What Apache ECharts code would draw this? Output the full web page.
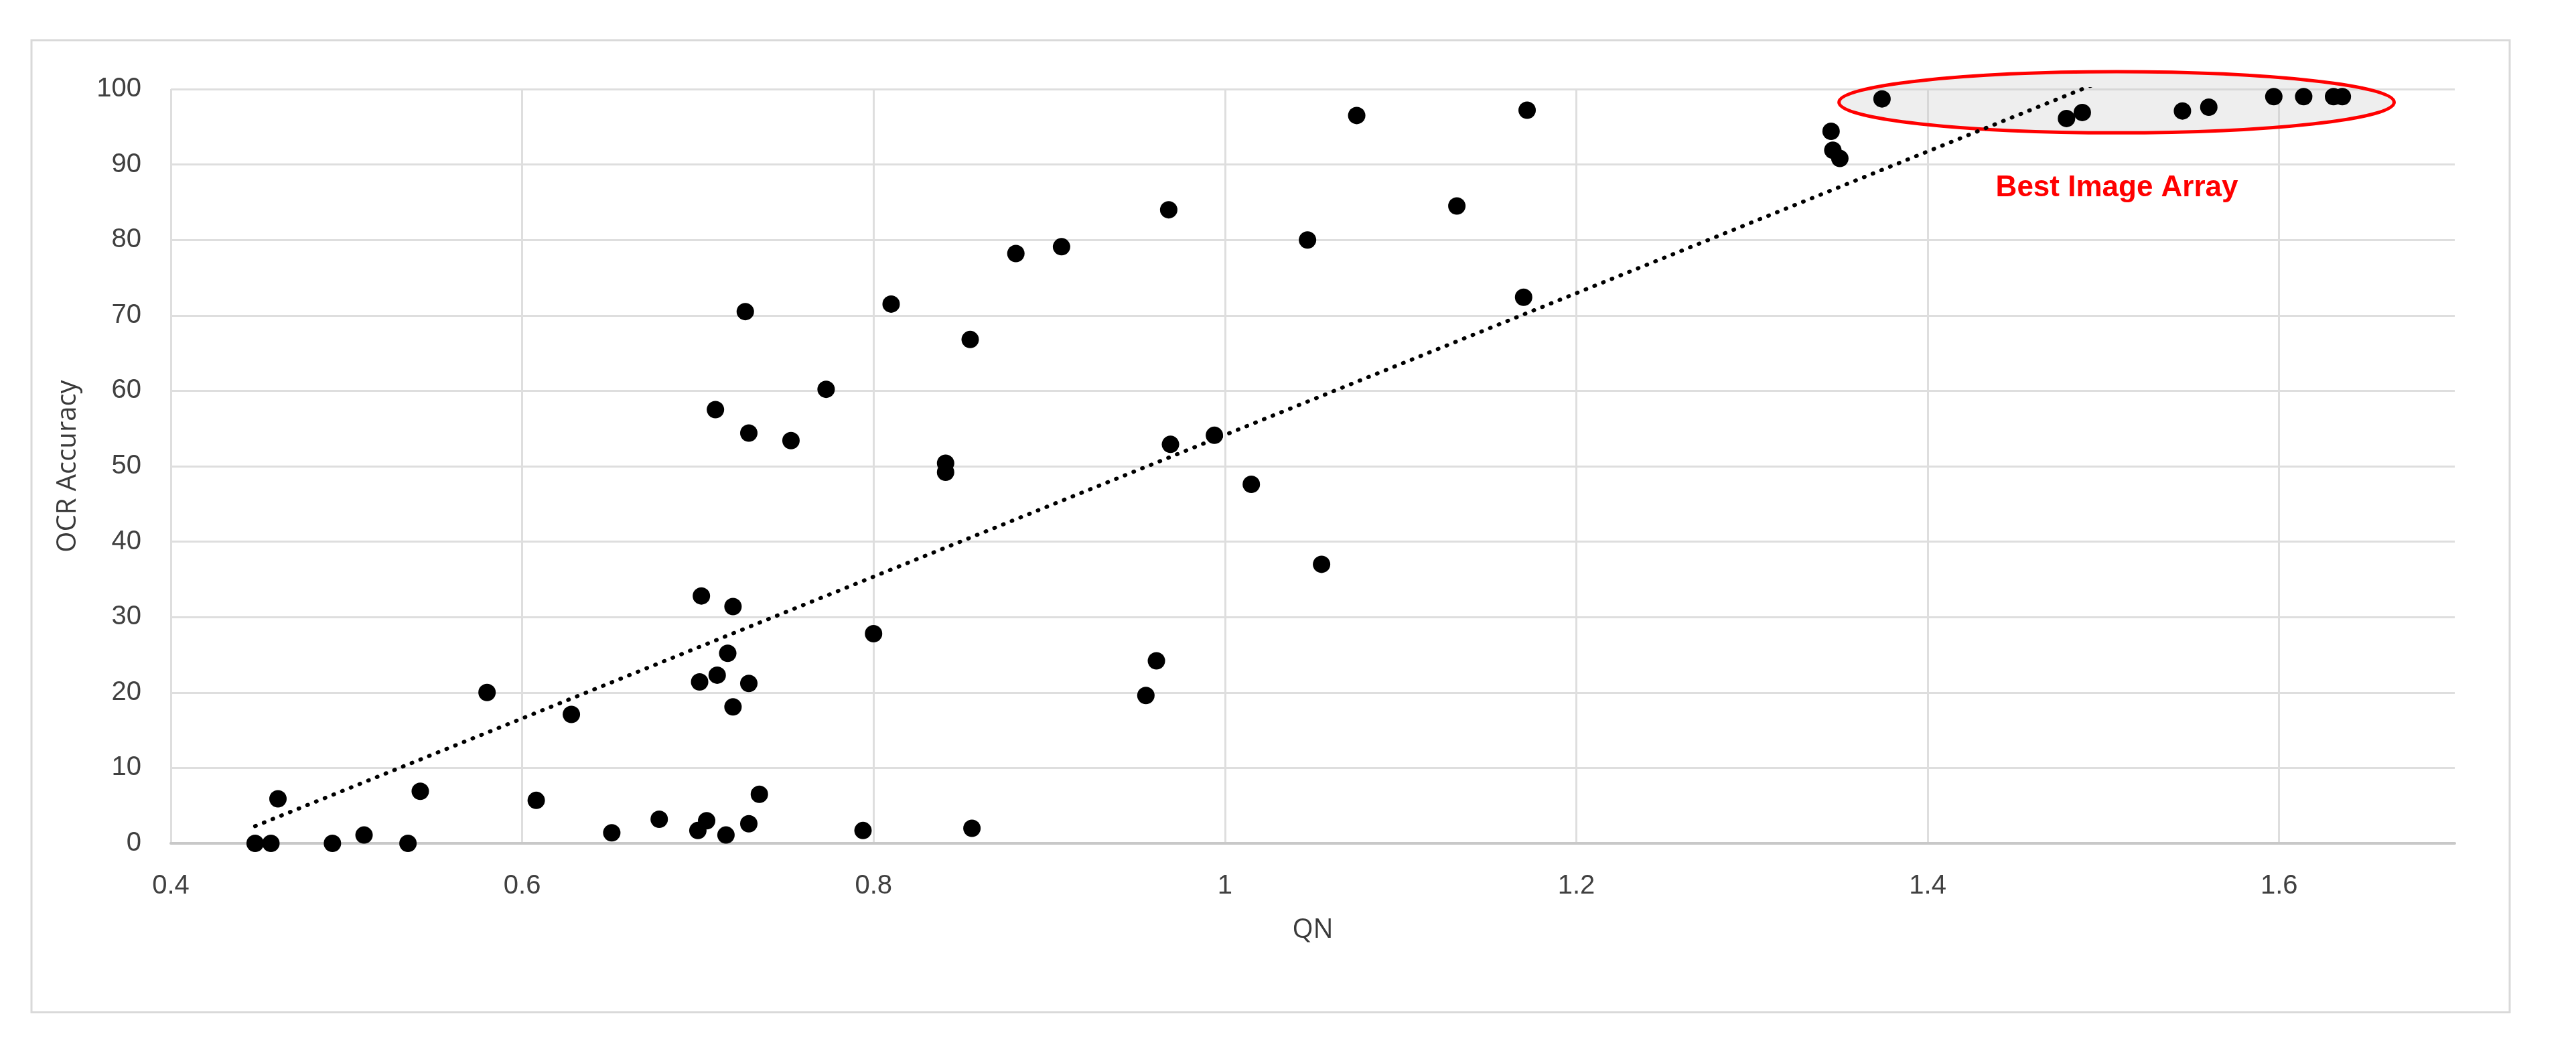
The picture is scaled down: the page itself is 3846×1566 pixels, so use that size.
<!DOCTYPE html>
<html>
<head>
<meta charset="utf-8">
<title>QN vs OCR Accuracy</title>
<script src="https://cdn.jsdelivr.net/npm/echarts@6/dist/echarts.min.js"></script>
<style>
  html, body { margin: 0; padding: 0; background: #fff; }
  #chart { width: 3846px; height: 1566px; }
</style>
</head>
<body>
<div id="chart"></div>
<script>
// values
const qn = [0.448, 0.457, 0.461, 0.492, 0.510, 0.535, 0.542, 0.580, 0.608, 0.628,
  0.651, 0.678, 0.702, 0.701, 0.711, 0.717, 0.720, 0.720, 0.729, 0.700,
  0.705, 0.716, 0.729, 0.735, 0.727, 0.710, 0.729, 0.753, 0.773, 0.794,
  0.800, 0.810, 0.841, 0.841, 0.855, 0.856, 0.881, 0.907, 0.955, 0.961,
  0.968, 0.969, 0.994, 1.015, 1.047, 1.055, 1.075, 1.132, 1.170, 1.172,
  1.345, 1.346, 1.350, 1.374, 1.479, 1.488, 1.545, 1.560, 1.597, 1.614,
  1.631, 1.636];
const ocrAccuracy = [0, 0, 5.9, 0, 1.1, 0, 6.9, 20.0, 5.7, 17.1,
  1.4, 3.2, 32.8, 21.4, 22.3, 25.2, 31.4, 18.1, 21.2, 1.7,
  3.0, 1.1, 2.6, 6.5, 70.5, 57.5, 54.4, 53.4, 60.2, 1.7,
  27.8, 71.5, 50.4, 49.2, 66.8, 2.0, 78.2, 79.1, 19.6, 24.2,
  84.0, 52.9, 54.1, 47.6, 80.0, 37.0, 96.5, 84.5, 72.4, 97.2,
  94.4, 91.9, 90.8, 98.7, 96.1, 96.9, 97.1, 97.6, 99.0, 99.0,
  99.0, 99.0];

// annotation around the best image array (data units)
const bestCenter = [1.5075, 98.25];
const bestRadius = [0.158, 4.05];
const bestLabelAt = [1.5077, 86.9];

const points = qn.map((x, i) => [x, ocrAccuracy[i]]);

// linear trendline (least squares), drawn over the data range
function linearFit(xs, ys) {
  const n = xs.length;
  let sx = 0, sy = 0, sxx = 0, sxy = 0;
  for (let i = 0; i < n; i++) {
    sx += xs[i]; sy += ys[i];
    sxx += xs[i] * xs[i]; sxy += xs[i] * ys[i];
  }
  const b = (n * sxy - sx * sy) / (n * sxx - sx * sx);
  const a = (sy - b * sx) / n;
  return { a, b };
}
const fit = linearFit(qn, ocrAccuracy);
const xMin = Math.min(...qn), xMax = Math.max(...qn);
const trend = [[xMin, fit.a + fit.b * xMin], [xMax, fit.a + fit.b * xMax]];

const labelFont = '"Liberation Sans", Arial, sans-serif';
const titleFont = '"Open Sans", "Noto Sans", sans-serif';

const chart = echarts.init(document.getElementById('chart'));

chart.setOption({
  animation: false,
  backgroundColor: '#fff',
  grid: { left: 255, right: 181, top: 133, bottom: 307, containLabel: false },
  xAxis: {
    type: 'value',
    min: 0.4, max: 1.7, interval: 0.2,
    name: 'QN',
    nameLocation: 'middle',
    nameGap: 110,
    nameTextStyle: { fontFamily: titleFont, fontSize: 40, color: '#3a3a3a' },
    axisLine: { show: true, lineStyle: { color: '#c8c8c8', width: 4 } },
    axisTick: { show: false },
    axisLabel: {
      showMaxLabel: false,
      margin: 44,
      fontFamily: labelFont, fontSize: 40, color: '#404040'
    },
    splitLine: { show: true, showMaxLine: false, lineStyle: { color: '#dedede', width: 3 } }
  },
  yAxis: {
    type: 'value',
    min: 0, max: 100, interval: 10,
    name: 'OCR Accuracy',
    nameLocation: 'middle',
    nameGap: 133,
    nameTextStyle: { fontFamily: titleFont, fontSize: 40, color: '#3a3a3a' },
    axisLine: { show: false },
    axisTick: { show: false },
    axisLabel: { margin: 44, fontFamily: labelFont, fontSize: 40, color: '#404040' },
    splitLine: { show: true, lineStyle: { color: '#dedede', width: 3 } }
  },
  series: [
    {
      name: 'trend',
      type: 'line',
      data: trend,
      symbol: 'none',
      clip: true,
      silent: true,
      z: 2,
      lineStyle: { color: '#000', width: 6, type: [1, 13], cap: 'round', opacity: 1 }
    },
    {
      name: 'images',
      type: 'scatter',
      data: points,
      symbol: 'circle',
      symbolSize: 26,
      z: 3,
      itemStyle: { color: '#000', opacity: 1 }
    }
  ]
});

// annotation: red ellipse + label, placed in data coordinates
const c = chart.convertToPixel({ gridIndex: 0 }, bestCenter);
const edge = chart.convertToPixel({ gridIndex: 0 },
  [bestCenter[0] + bestRadius[0], bestCenter[1] + bestRadius[1]]);
const lab = chart.convertToPixel({ gridIndex: 0 }, bestLabelAt);

chart.setOption({
  graphic: [
    {
      type: 'rect',
      z: 0,
      silent: true,
      shape: { x: 47, y: 60, width: 3700, height: 1451 },
      style: { fill: 'none', stroke: '#d9d9d9', lineWidth: 3 }
    },
    {
      type: 'ellipse',
      z: 1,
      silent: true,
      shape: { cx: c[0], cy: c[1], rx: Math.abs(edge[0] - c[0]), ry: Math.abs(c[1] - edge[1]) },
      style: { fill: 'rgba(200,200,200,0.3)', stroke: '#ff0000', lineWidth: 5 }
    },
    {
      type: 'text',
      z: 4,
      silent: true,
      x: lab[0],
      y: lab[1],
      style: {
        text: 'Best Image Array',
        fill: '#ff0000',
        fontFamily: labelFont,
        fontWeight: 'bold',
        fontSize: 44,
        align: 'center',
        verticalAlign: 'middle'
      }
    }
  ]
});
</script>
</body>
</html>
